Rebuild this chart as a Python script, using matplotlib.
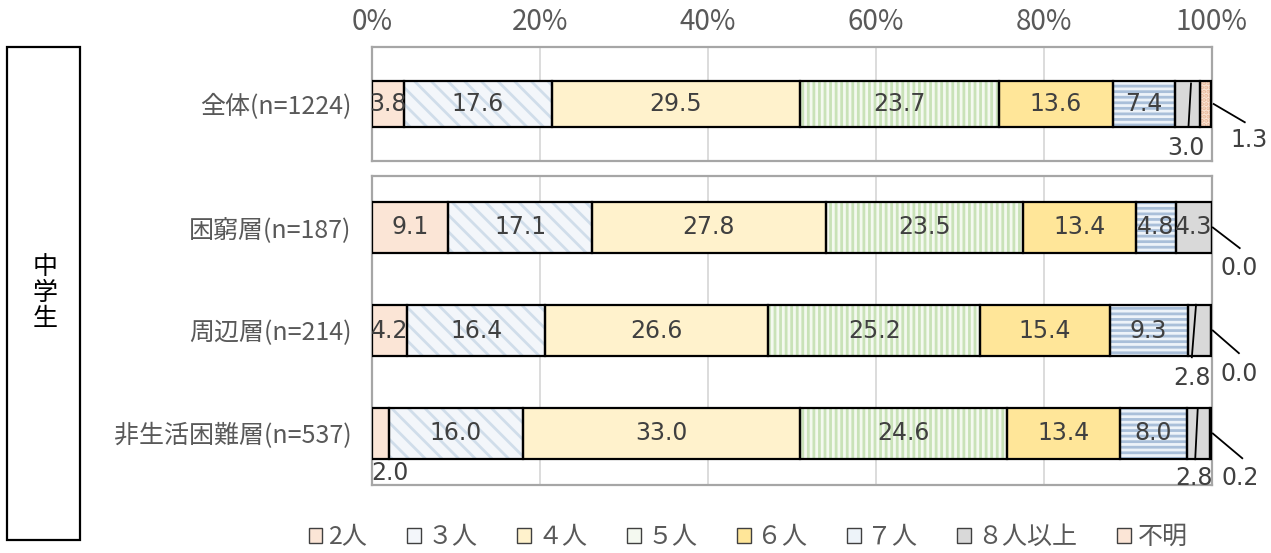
import matplotlib.pyplot as plt
from matplotlib.patches import Patch, Rectangle

plt.rcParams['font.family'] = ['Noto Sans CJK JP', 'DejaVu Sans']
plt.rcParams['hatch.linewidth'] = 2.0

groups = ["全体(n=1224)", "困窮層(n=187)", "周辺層(n=214)", "非生活困難層(n=537)"]
series = ["2人", "３人", "４人", "５人", "６人", "７人", "８人以上", "不明"]
total = [3.8, 17.6, 29.5, 23.7, 13.6, 7.4, 3.0, 1.3]
poor = [9.1, 17.1, 27.8, 23.5, 13.4, 4.8, 4.3, 0.0]
border = [4.2, 16.4, 26.6, 25.2, 15.4, 9.3, 2.8, 0.0]
nonpoor = [2.0, 16.0, 33.0, 24.6, 13.4, 8.0, 2.8, 0.2]
ticks = [0, 20, 40, 60, 80, 100]

rows = [total, poor, border, nonpoor]

faces = ['#FBE5D6', '#F3F6FA', '#FFF2CC', '#F4F9F0', '#FFE699', '#EDF3F9', '#D9D9D9', '#FBE5D6']
hatches = [None, '\\\\', None, '|||', None, '---', None, '....']
hatch_cols = [None, '#D0DDEA', None, '#C9E2B8', None, '#A9BFD9', None, '#E8B89A']

# label placement for small segments: (label x, label dy), leader line or None
outside = {
    (0, 6): ((96.9, 0.39), ((97.5, -0.18), (97.2, 0.20))),
    (0, 7): ((104.4, 0.32), ((100.2, 0.0), (103.9, 0.16))),
    (1, 7): ((103.2, 0.39), ((100.1, 0.0), (103.3, 0.20))),
    (2, 6): ((97.6, 0.46), ((98.1, -0.25), (97.6, 0.26))),
    (2, 7): ((103.2, 0.42), ((100.1, 0.0), (103.2, 0.22))),
    (3, 0): ((2.1, 0.38), None),
    (3, 6): ((97.9, 0.43), ((98.3, -0.24), (98.0, 0.25))),
    (3, 7): ((103.4, 0.43), ((100.1, 0.0), (103.6, 0.24))),
}

W, H = 1271, 553
fig = plt.figure(figsize=(W / 100, H / 100), dpi=100)


def px_axes(x0, y0, x1, y1):
    return fig.add_axes([x0 / W, 1 - y1 / H, (x1 - x0) / W, (y1 - y0) / H])


ax1 = px_axes(372, 47, 1212, 161)
ax2 = px_axes(372, 176, 1212, 485)

label_font = ['DejaVu Sans']
gray = '#595959'


def draw_rows(ax, idx_list, bar_h):
    for pos, r in enumerate(idx_list):
        vals = rows[r]
        left = 0
        for s, v in enumerate(vals):
            ax.barh(pos, v, left=left, height=bar_h, color=faces[s],
                    hatch=hatches[s], edgecolor=hatch_cols[s] or faces[s],
                    linewidth=0, zorder=2)
            ax.barh(pos, v, left=left, height=bar_h, fill=False,
                    edgecolor='black', linewidth=1.6, zorder=3)
            txt = f"{v:.1f}"
            if (r, s) in outside:
                (lx, ly), line = outside[(r, s)]
                ax.text(lx, pos + ly, txt, ha='center', va='center',
                        fontsize=17, color='#404040', family=label_font,
                        clip_on=False, zorder=5)
                if line:
                    (x0, y0), (x1, y1) = line
                    ax.plot([x0, x1], [pos + y0, pos + y1], color='black',
                            lw=1.3, clip_on=False, zorder=4)
            elif v > 0:
                ax.text(left + v / 2, pos, txt, ha='center', va='center',
                        fontsize=17, color='#404040', family=label_font,
                        zorder=5)
            left += v
    ax.set_yticks(range(len(idx_list)))
    ax.set_yticklabels([groups[r] for r in idx_list], fontsize=18, color=gray)
    ax.set_xlim(0, 100)
    ax.set_xticks(ticks)
    ax.grid(axis='x', color='#D9D9D9', lw=1.3, zorder=0)
    ax.set_axisbelow(True)
    ax.tick_params(length=0, pad=15)
    for sp in ax.spines.values():
        sp.set_color('#A6A6A6')
        sp.set_linewidth(1.6)


draw_rows(ax1, [0], 0.40)
ax1.set_ylim(0.5, -0.5)
ax1.xaxis.tick_top()
ax1.set_xticklabels([f"{t}%" for t in ticks], fontsize=20, color=gray)
ax1.tick_params(axis='x', pad=7)

draw_rows(ax2, [1, 2, 3], 0.5)
ax2.set_ylim(2.5, -0.5)
ax2.set_xticklabels([])

# left group box
fig.patches.append(Rectangle((7 / W, 1 - 540 / H), 73 / W, 493 / H,
                             transform=fig.transFigure, fill=False,
                             edgecolor='black', lw=1.6))
fig.text(45 / W, 1 - 293 / H, "中\n学\n生", ha='center', va='center',
         fontsize=18, color='black', linespacing=1.0)

handles = [Patch(facecolor=faces[i], edgecolor='#404040', lw=1) for i in range(len(series))]
fig.legend(handles, series, loc='center', bbox_to_anchor=(748 / W, 1 - 537 / H),
           ncol=len(series), frameon=False, fontsize=18, labelcolor=gray,
           handlelength=0.55, handleheight=0.55, handletextpad=0.25,
           columnspacing=1.6)

fig.savefig("out.png", dpi=100)
